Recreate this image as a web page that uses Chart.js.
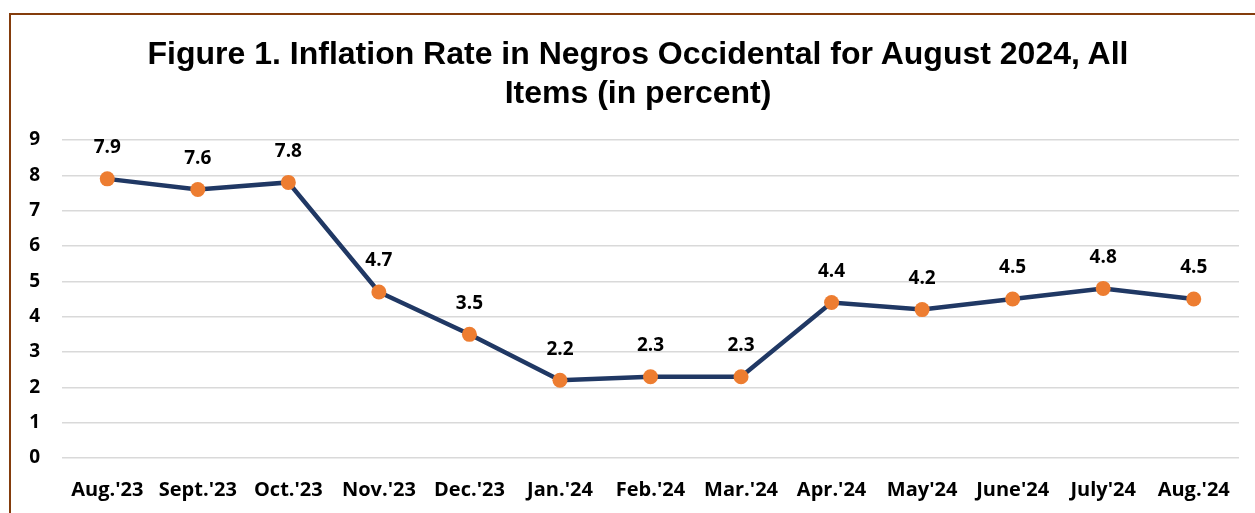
<!DOCTYPE html>
<html>
<head>
<meta charset="utf-8">
<script src="https://cdn.jsdelivr.net/npm/chart.js@4"></script>
<style>
    html, body { margin: 0; padding: 0; background: #fff; overflow: hidden; }
    #frame {
        position: absolute; left: 9px; top: 13px; width: 1400px; height: 600px;
        border-top: 2px solid #843C0C; border-left: 2px solid #843C0C;
    }
    #title {
        position: absolute; left: 0; top: 34px; width: 1276px; text-align: center;
        font: bold 32px/39px 'Liberation Sans', Arial, sans-serif; color: #000;
    }
    #wrap { position: absolute; left: 0; top: 0; width: 1255px; height: 513px; }
</style>
</head>
<body>
<div id="frame"></div>
<div id="wrap"><canvas id="lineChart"></canvas></div>
<div id="title"></div>
<script>
const months = ["Aug.'23", "Sept.'23", "Oct.'23", "Nov.'23", "Dec.'23", "Jan.'24", "Feb.'24",
    "Mar.'24", "Apr.'24", "May'24", "June'24", "July'24", "Aug.'24"];
const inflation = [7.9, 7.6, 7.8, 4.7, 3.5, 2.2, 2.3, 2.3, 4.4, 4.2, 4.5, 4.8, 4.5];
const yTicks = [0, 1, 2, 3, 4, 5, 6, 7, 8, 9];
const titleLines = ['Figure 1. Inflation Rate in Negros Occidental for August 2024, All', 'Items (in percent)'];

document.getElementById('title').innerHTML = titleLines.join('<br>');

const labelFont = "bold 19px 'Open Sans'";

// value labels above each point
const pointLabels = {
    id: 'pointLabels',
    afterDatasetsDraw(chart) {
        const ctx = chart.ctx;
        const meta = chart.getDatasetMeta(0);
        ctx.save();
        ctx.font = labelFont;
        ctx.fillStyle = '#000';
        ctx.textAlign = 'center';
        ctx.textBaseline = 'middle';
        meta.data.forEach(function (pt, i) {
            ctx.fillText(inflation[i].toFixed(1), pt.x, pt.y - 31);
        });
        ctx.restore();
    }
};

new Chart(document.getElementById('lineChart'), {
    type: 'line',
    data: {
        labels: months,
        datasets: [{
            label: 'Inflation',
            data: inflation,
            borderColor: '#203864',
            borderWidth: 4.5,
            tension: 0,
            fill: false,
            pointBackgroundColor: '#ED7D31',
            pointBorderColor: '#ED7D31',
            pointRadius: 7.5,
            pointBorderWidth: 0
        }]
    },
    options: {
        responsive: true,
        maintainAspectRatio: false,
        animation: false,
        layout: { padding: { left: 0, right: 16, top: 140, bottom: 0 } },
        plugins: {
            legend: { display: false },
            tooltip: { enabled: false }
        },
        scales: {
            x: {
                offset: true,
                afterFit: function (axis) { axis.height = 55; },
                grid: { display: false, drawTicks: false },
                border: { display: false },
                ticks: { color: '#000', font: { family: 'Open Sans', size: 20, weight: 'bold' }, padding: 20, maxRotation: 0, autoSkip: false }
            },
            y: {
                min: 0,
                max: 9,
                afterFit: function (axis) { axis.width = 62; },
                afterBuildTicks: function (axis) { axis.ticks = yTicks.map(v => ({ value: v })); },
                grid: { color: '#D9D9D9', lineWidth: 1.5, drawTicks: false },
                border: { display: false },
                ticks: { color: '#000', font: { family: 'Open Sans', size: 19, weight: 'bold' }, padding: 22 }
            }
        }
    },
    plugins: [pointLabels]
});
</script>
</body>
</html>
